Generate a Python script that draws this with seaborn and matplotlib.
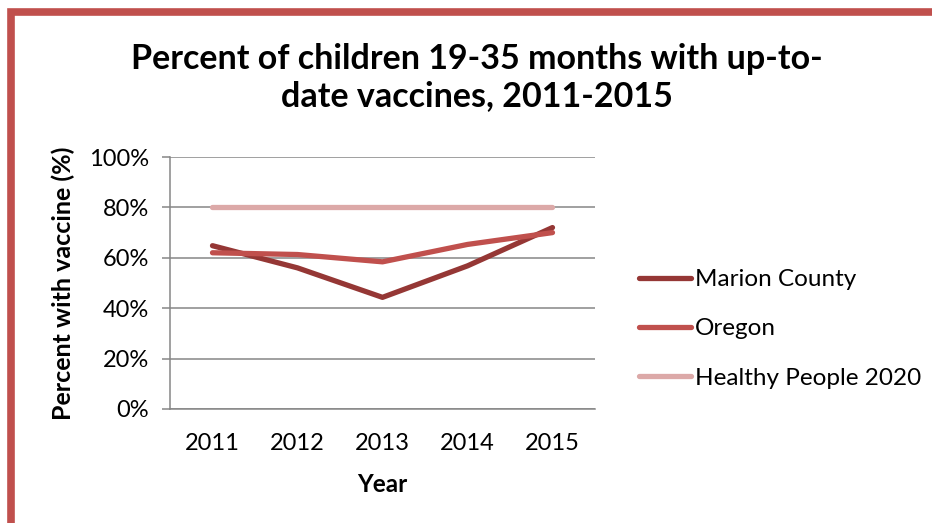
'''Percent of children 19-35 months with up-to-date vaccines'''
import matplotlib
matplotlib.use('Agg')
import matplotlib.pyplot as plt
import matplotlib.ticker as ticker
from matplotlib.patches import Rectangle
from matplotlib.lines import Line2D
import pandas
import seaborn as sns

#region data
years = [2011, 2012, 2013, 2014, 2015]
marion = [64.8, 56.0, 44.3, 56.8, 72.0]
oregon = [62.0, 61.3, 58.4, 65.3, 70.0]
healthy_2020 = [80, 80, 80, 80, 80]
series_names = ['Marion County', 'Oregon', 'Healthy People 2020']
colors = {'Marion County': '#953735', 'Oregon': '#C0504D', 'Healthy People 2020': '#DCA9A8'}
#endregion

df = pandas.concat([
    pandas.DataFrame({'year': years, 'pct': marion, 'series': series_names[0]}),
    pandas.DataFrame({'year': years, 'pct': oregon, 'series': series_names[1]}),
    pandas.DataFrame({'year': years, 'pct': healthy_2020, 'series': series_names[2]}),
])

sns.set_style('white')
plt.rcParams['font.family'] = ['Lato', 'DejaVu Sans']
plt.rcParams['text.color'] = 'black'
plt.rcParams['axes.labelcolor'] = 'black'

fig = plt.figure(figsize=(9.32, 5.23), dpi=100)
ax = fig.add_axes([0.1824, 0.2180, 0.456, 0.4818])

sns.lineplot(data=df, x='year', y='pct', hue='series', hue_order=series_names,
             palette=colors, linewidth=3.8, ax=ax, legend=False,
             solid_capstyle='round')

#region axis
ax.set_xlim(2010.5, 2015.5)
ax.set_ylim(0, 100)
ax.yaxis.set_major_locator(ticker.MultipleLocator(20))
ax.yaxis.set_major_formatter(ticker.FuncFormatter(lambda v, p: '%d%%' % v))
ax.set_xticks(years)
ax.set_xticklabels([str(y) for y in years])
ax.set_xticks([y - 0.5 for y in years] + [2015.5], minor=True)
ax.tick_params(axis='x', which='major', length=0, pad=17, labelsize=17, labelcolor='black')
ax.tick_params(axis='x', which='minor', length=5.5, width=1.1, color='#868686', direction='out')
ax.tick_params(axis='y', which='major', length=6, width=1.1, color='#868686', direction='out',
               labelsize=17, pad=9, left=True, labelcolor='black')
ax.grid(axis='y', color='#868686', linewidth=1.1)
ax.set_axisbelow(True)
for s in ['top', 'right']:
    ax.spines[s].set_visible(False)
for s in ['left', 'bottom']:
    ax.spines[s].set_color('#868686')
    ax.spines[s].set_linewidth(1.1)

ax.set_xlabel('Year', fontsize=17.5, fontweight='bold', labelpad=14)
ax.set_ylabel('Percent with vaccine (%)', fontsize=18, fontweight='bold', labelpad=10)
#endregion

#region title
fig.text(0.512, 0.851, 'Percent of children 19-35 months with up-to-\ndate vaccines, 2011-2015',
         ha='center', va='center', fontsize=24.5, fontweight='bold', linespacing=1.2,
         color='black')
#endregion

#region legend
handles = [Line2D([0], [0], color=colors[n], linewidth=3.8, solid_capstyle='round') for n in series_names]
fig.legend(handles, series_names, loc='center left', bbox_to_anchor=(0.675, 0.371),
           frameon=False, fontsize=17.5, handlelength=2.15, handletextpad=0.15,
           labelspacing=1.17, borderaxespad=0, labelcolor='black')
#endregion

#region border
fig.add_artist(Rectangle((0.0122, -0.05), 1.05, 1.05 - 0.0225, transform=fig.transFigure,
                         fill=False, edgecolor='#C0504D', linewidth=5.5))
#endregion

fig.savefig('out.png', dpi=100)
